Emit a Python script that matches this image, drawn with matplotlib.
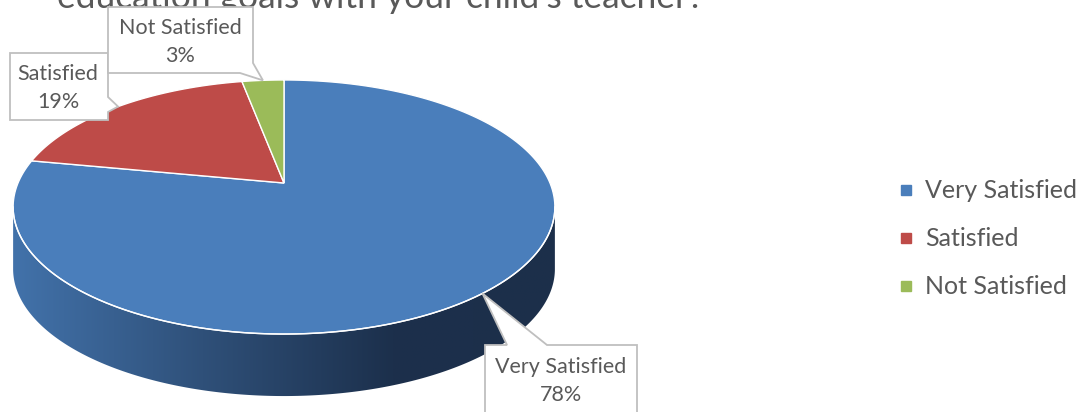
import numpy as np
import matplotlib.pyplot as plt
from matplotlib.patches import Polygon
from matplotlib.lines import Line2D
from matplotlib.colors import LinearSegmentedColormap

labels = ["Very Satisfied", "Satisfied", "Not Satisfied"]
values = [78, 19, 3]
colors = ["#4a7ebb", "#be4b48", "#9bbb59"]
title = "education goals with your child's teacher?"

plt.rcParams['font.family'] = ['Lato', 'DejaVu Sans']
txt = "#595959"

fig = plt.figure(figsize=(10.92, 4.12), dpi=100)
ax = fig.add_axes([0, 0, 1, 1])
ax.set_xlim(0, 1092)
ax.set_ylim(412, 0)
ax.axis("off")

# pie geometry in pixels: tilted circle with a bit of perspective
x0, y0 = 284, 183      # projected centre
A, B, e = 266, 122.5, 0.189
depth = 62

def pt(t):
    t = np.radians(t)
    w = 1 + e * np.sin(t)
    return x0 + A * np.cos(t) / w, y0 - B * np.sin(t) / w

tl = 180 + np.degrees(np.arcsin(e))
tr = 360 - np.degrees(np.arcsin(e))

# side wall (front), gradient left->right clipped to the wall shape
ts = np.linspace(tl, tr, 300)
upper = np.array([pt(t) for t in ts])
lower = upper[::-1] + [0, depth]
wall = Polygon(np.vstack([upper, lower]), closed=True, facecolor="none",
               edgecolor="none", zorder=1)
ax.add_patch(wall)
side_cmap = LinearSegmentedColormap.from_list(
    "side", [(0, "#4272aa"), (0.35, "#2f5079"), (0.7, "#1c304c"), (1, "#1c2f4a")])
xl, xr = upper[0, 0], upper[-1, 0]
grad = np.linspace(0, 1, 256)[None, :]
im = ax.imshow(grad, cmap=side_cmap, extent=(xl, xr, upper[:, 1].min() - 2,
               upper[:, 1].max() + depth + 2), aspect="auto", zorder=1,
               interpolation="bilinear")
im.set_clip_path(wall)
ax.set_xlim(0, 1092)
ax.set_ylim(412, 0)

# top faces
total = sum(values)
start = 90.0
mids = []
for v, col in zip(values, colors):
    end = start - 360.0 * v / total
    tt = np.linspace(start, end, 200)
    arc = [pt(t) for t in tt]
    ax.add_patch(Polygon([(x0, y0)] + arc, closed=True, facecolor=col,
                         edgecolor="white", lw=1.0, zorder=2))
    mids.append((start + end) / 2)
    start = end

# white rim on front edge
ax.plot(upper[:, 0], upper[:, 1], color="white", lw=1.0, zorder=3)

# callouts
def callout(verts, lines, tx, ty):
    ax.add_patch(Polygon(verts, closed=True, facecolor="white", edgecolor="#bfbfbf",
                         lw=1.3, zorder=5))
    ax.text(tx, ty, lines, ha="center", va="center", fontsize=15.5, color=txt,
            linespacing=1.55, zorder=6)

tip_vs = pt(mids[0])
tip_s = pt(mids[1])
tip_ns = pt(mids[2])

callout([(10, 53), (108, 53), (108, 97), tip_s, (108, 112), (108, 120), (10, 120)],
        "Satisfied\n19%", 58, 88)
callout([(108, 7), (253, 7), (253, 63), tip_ns, (240, 73), (108, 73)],
        "Not Satisfied\n3%", 180, 42)
callout([(485, 345), (507, 345), tip_vs, (547, 345), (637, 345), (637, 440), (485, 440)],
        "Very Satisfied\n78%", 561, 381)

# title (cut off at top)
ax.text(380, 8, title, ha="center", va="baseline", fontsize=25.5, color=txt)

# legend
handles = [Line2D([], [], marker="s", ls="none", markersize=7, color=c) for c in colors]
ax.legend(handles, labels, loc="center left", bbox_to_anchor=(0.800, 0.42), frameon=False,
          fontsize=18, labelcolor=txt, labelspacing=1.0, handletextpad=0.35,
          handlelength=0.8)

fig.savefig("out.png", dpi=100)
